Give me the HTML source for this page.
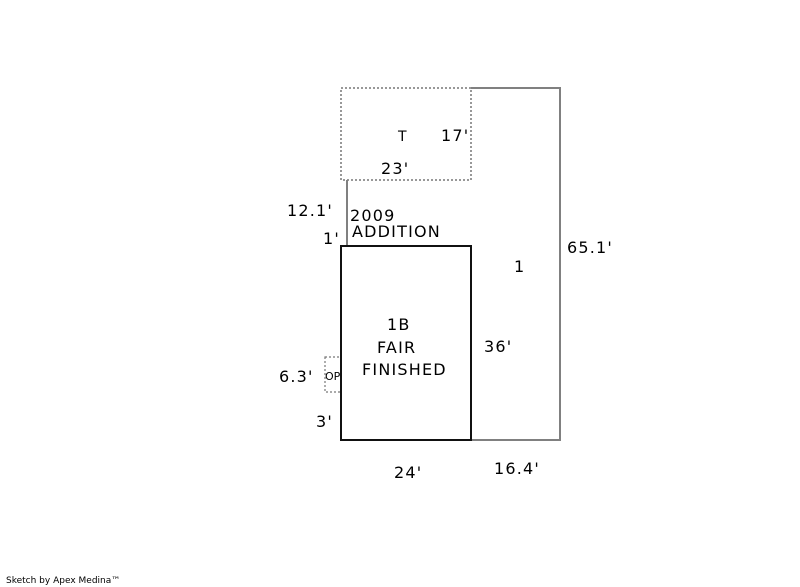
<!DOCTYPE html>
<html><head><style>body{margin:0;background:#fff;overflow:hidden}svg{display:block}svg text{font-family:"DejaVu Sans","Liberation Sans",sans-serif;font-size:16px;letter-spacing:1.2px;fill:#000}</style></head>
<body>
<svg width="800" height="587" viewBox="0 0 800 587" xmlns="http://www.w3.org/2000/svg">
<rect x="341" y="88" width="130" height="92" fill="none" stroke="#777" stroke-width="1.5" stroke-dasharray="2,2"/>
<polyline points="471,88 560,88 560,440 471,440" fill="none" stroke="#808080" stroke-width="2"/>
<line x1="347" y1="180" x2="347" y2="246" stroke="#808080" stroke-width="2"/>
<rect x="325" y="357" width="16" height="35" fill="none" stroke="#777" stroke-width="1.2" stroke-dasharray="2,2"/>
<rect x="341" y="246" width="130" height="194" fill="none" stroke="#111" stroke-width="2"/>
<text x="398" y="141" style="font-size:14px">T</text>
<text x="441" y="141">17'</text>
<text x="381" y="174">23'</text>
<text x="287" y="216">12.1'</text>
<text x="350" y="221">2009</text>
<text x="352" y="237">ADDITION</text>
<text x="323" y="244">1'</text>
<text x="514" y="272">1</text>
<text x="567" y="253">65.1'</text>
<text x="387" y="330">1B</text>
<text x="377" y="353">FAIR</text>
<text x="362" y="375">FINISHED</text>
<text x="484" y="352">36'</text>
<text x="279" y="382">6.3'</text>
<text x="325" y="380" style="font-size:11px;letter-spacing:0">OP</text>
<text x="316" y="427">3'</text>
<text x="394" y="478">24'</text>
<text x="494" y="474">16.4'</text>
<text x="6" y="583" style="font-size:9px;letter-spacing:0">Sketch by Apex Medina™</text>
</svg>
</body></html>
